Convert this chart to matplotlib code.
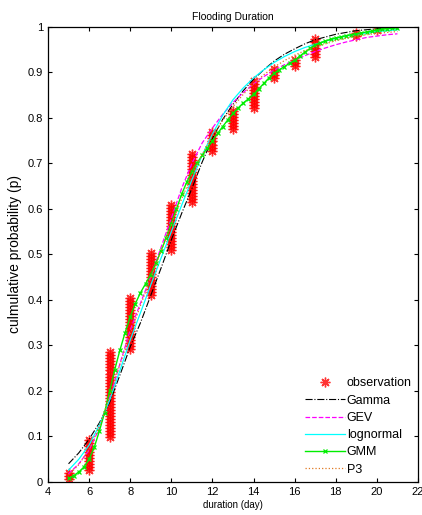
import numpy as np
import matplotlib
matplotlib.use('Agg')
import matplotlib.pyplot as plt

plt.rcParams['font.family'] = ['Liberation Sans', 'DejaVu Sans']

# observed flooding durations (day) and how many events at each
obs_days = [5, 6, 7, 8, 9, 10, 11, 12, 13, 14, 15, 16, 17, 19, 20]
obs_counts = [3, 11, 29, 18, 15, 16, 17, 7, 7, 10, 4, 3, 7, 2, 1]

# fitted CDFs, read at half-day steps from 5 to 21
fit_x = np.arange(5, 21.01, 0.5)
gamma_p = [0.040, 0.064, 0.094, 0.130, 0.175, 0.235, 0.297, 0.350, 0.410, 0.470,
           0.532, 0.590, 0.645, 0.703, 0.755, 0.797, 0.830, 0.860, 0.885, 0.906,
           0.925, 0.940, 0.952, 0.963, 0.972, 0.978, 0.984, 0.988, 0.992, 0.994,
           0.996, 0.997, 0.998]
gev_p = [0.018, 0.040, 0.070, 0.118, 0.185, 0.260, 0.334, 0.393, 0.451, 0.516,
         0.580, 0.645, 0.700, 0.745, 0.778, 0.808, 0.834, 0.856, 0.875, 0.891,
         0.905, 0.917, 0.927, 0.937, 0.946, 0.954, 0.961, 0.967, 0.972, 0.977,
         0.980, 0.983, 0.985]
lognormal_p = [0.026, 0.050, 0.081, 0.125, 0.180, 0.245, 0.312, 0.372, 0.433, 0.492,
               0.550, 0.608, 0.664, 0.718, 0.765, 0.806, 0.840, 0.866, 0.888, 0.906,
               0.922, 0.935, 0.946, 0.955, 0.962, 0.969, 0.975, 0.980, 0.984, 0.987,
               0.990, 0.992, 0.994]
p3_p = [0.015, 0.038, 0.072, 0.122, 0.188, 0.258, 0.325, 0.388, 0.448, 0.507,
        0.565, 0.622, 0.675, 0.720, 0.760, 0.795, 0.825, 0.852, 0.875, 0.895,
        0.912, 0.926, 0.938, 0.948, 0.956, 0.963, 0.970, 0.975, 0.980, 0.983,
        0.986, 0.988, 0.990]

# GMM is read at quarter-day steps (it carries the x markers)
gmm_x = np.arange(5, 21.01, 0.25)
gmm_p = [0.008, 0.014, 0.022, 0.033, 0.050, 0.076, 0.112, 0.152, 0.200, 0.247,
         0.290, 0.328, 0.363, 0.392, 0.416, 0.436, 0.456, 0.481, 0.508, 0.537,
         0.568, 0.600, 0.632, 0.659, 0.682, 0.701, 0.718, 0.734, 0.750, 0.766,
         0.781, 0.796, 0.810, 0.822, 0.833, 0.842, 0.852, 0.864, 0.876, 0.888,
         0.898, 0.906, 0.913, 0.920, 0.927, 0.936, 0.945, 0.953, 0.960, 0.965,
         0.969, 0.973, 0.976, 0.978, 0.981, 0.983, 0.985, 0.987, 0.989, 0.991,
         0.993, 0.995, 0.996, 0.997, 0.998]

# empirical plotting positions i/(n+1)
obs_x = np.repeat(obs_days, obs_counts)
n = len(obs_x)
obs_p = np.arange(1, n + 1) / (n + 1)

fig = plt.figure(figsize=(4.22, 5.15), dpi=100)
ax = fig.add_axes([0.1137, 0.0641, 0.8768, 0.8835])

# MATLAB-style asterisk: plus and cross overlaid
ax.plot(obs_x, obs_p, linestyle='none', marker=(8, 2, 0), markersize=7,
        markeredgewidth=1.0, color='red', alpha=0.8, label='observation')
ax.plot(fit_x, gamma_p, '-.', color='black', lw=0.8, label='Gamma')
ax.plot(fit_x, gev_p, '--', color='#ff00ff', lw=0.9, label='GEV')
ax.plot(fit_x, lognormal_p, '-', color='#00ffff', lw=0.9, label='lognormal')
ax.plot(gmm_x, gmm_p, '-', color='#00ee00', lw=1.0, marker='x', markersize=3.5,
        markeredgewidth=0.9, label='GMM')
ax.plot(fit_x, p3_p, ':', color='#e07820', lw=0.9, label='P3')

ax.set_xlim(4, 22)
ax.set_ylim(0, 1)
ax.set_xticks(range(4, 23, 2))
ax.set_yticks(np.arange(0, 1.01, 0.1))
ax.set_yticklabels(['0', '0.1', '0.2', '0.3', '0.4', '0.5', '0.6', '0.7', '0.8', '0.9', '1'])
ax.tick_params(direction='in', top=True, right=True, labelsize=8, length=3, width=0.8)
for s in ax.spines.values():
    s.set_linewidth(0.9)

ax.set_title('Flooding Duration', fontsize=7.5, pad=5)
ax.set_xlabel('duration (day)', fontsize=7, labelpad=2)
ax.set_ylabel('culmulative probability (p)', fontsize=10, labelpad=4)

ax.legend(loc='lower right', frameon=False, fontsize=9, handlelength=3.2,
          handletextpad=0.1, labelspacing=0.42, borderaxespad=0.1,
          bbox_to_anchor=(1.0, 0.0))

fig.savefig('out.png', dpi=100)
